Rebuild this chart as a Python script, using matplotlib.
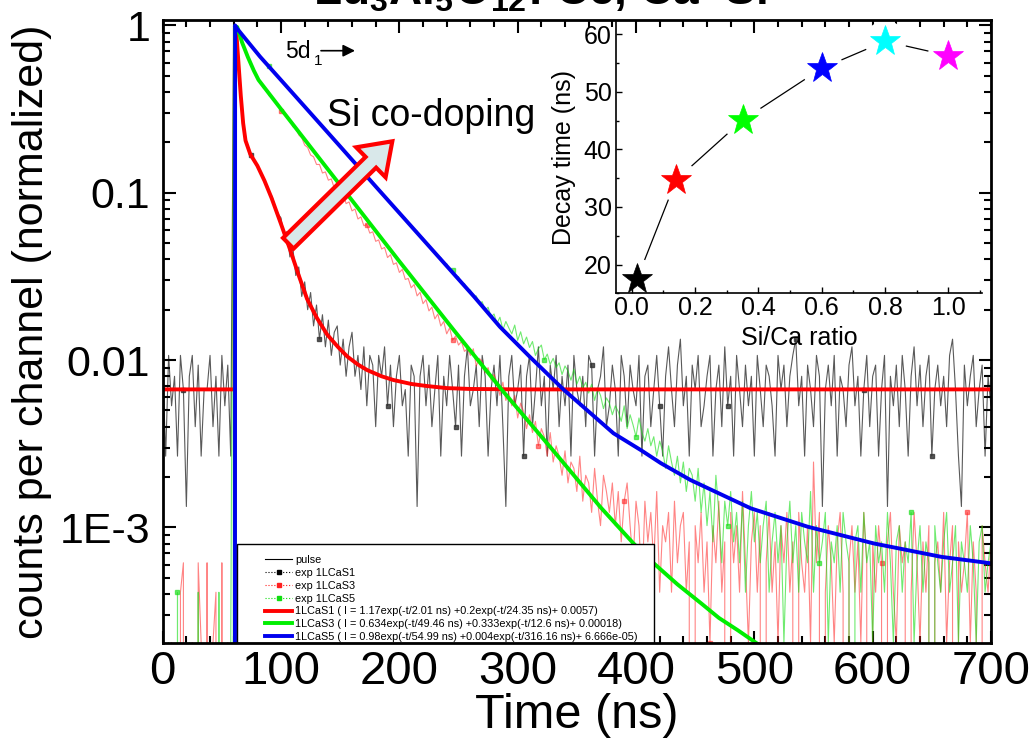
import numpy as np
import matplotlib
matplotlib.use('Agg')
import matplotlib.pyplot as plt
from matplotlib.lines import Line2D
from matplotlib.patches import FancyArrow, Rectangle
from matplotlib.ticker import FixedLocator, MultipleLocator, NullFormatter, LogLocator
from matplotlib.transforms import IdentityTransform

# ---------------- data ----------------
CHANNEL_NS = 2.5          # time per channel (ns)
PEAK_S1 = 750.0           # peak counts used for normalisation
PEAK_S3 = 4880.0
PEAK_S5 = 4880.0

# exp 1LCaS1 (counts per channel)
counts_s1 = [7, 2, 8, 4, 6, 2, 8, 5, 1, 6, 8, 3, 7, 2, 5, 5, 8, 3, 6, 2, 8, 4, 7, 2,
             750, 640, 340, 215, 158, 133, 126, 115, 108, 101,
             94, 83, 76, 71, 62, 56, 53, 41, 44, 31,
             35, 24, 27, 18, 22, 15, 19, 12, 16, 10,
             14, 9, 13, 8, 11, 12, 7, 10, 6, 9,
             11, 6, 8, 5, 9, 4, 8, 7, 3, 8,
             6, 9, 4,
             7, 3, 6, 8, 4, 5, 2, 7, 6, 1, 6, 8, 4, 7, 3, 5, 8, 2, 6, 4,
             8, 5, 3, 7, 2, 6, 9, 4, 5, 7, 3, 8, 6, 2, 5, 7, 4, 8, 3, 1,
             6, 8, 4, 5, 7, 2, 6, 8, 3, 5, 9, 4, 6, 2, 7, 5, 8, 3, 6, 4,
             7, 2, 8, 5, 4, 6, 3, 8, 7, 2, 5, 6, 9, 3, 4, 7, 5, 2, 8, 6,
             3, 7, 5, 4, 8, 2, 6, 7, 3, 5, 8, 4, 2, 6, 9, 5, 3, 7, 10, 4,
             6, 2, 7, 5, 8, 3, 4, 6, 8, 2, 5, 7, 3, 9, 4, 6, 2, 8, 5, 3,
             7, 4, 6, 2, 8, 5, 3, 7, 6, 4, 2, 8, 5, 7, 3, 6, 8, 10, 4, 6,
             2, 7, 5, 3, 8, 6, 1, 5, 7, 4, 8, 2, 6, 5, 3, 7, 9, 4, 6, 2,
             5, 8, 3, 6, 7, 2, 5, 8, 1, 6, 4, 7, 3, 8, 5, 2, 6, 9, 4, 7,
             3, 6, 8, 2, 5, 7, 4, 6, 3, 8, 10, 5, 2, 1, 7, 4, 6, 8, 3, 5,
             7, 2, 6, 4]

# exp 1LCaS3
counts_s3 = [3, 0, 0, 1, 0, 0, 2, 3, 0, 0, 1, 0, 3, 1, 0, 3, 0, 1, 2, 0, 3, 0, 1, 0,
             4880, 4700, 4250, 3850, 3380, 3150, 2760, 2620, 2330, 2270,
             2060, 2030, 1850, 1830, 1690, 1650, 1500, 1480, 1360, 1330,
             1210, 1190, 1080, 1040, 940, 910, 820, 800, 720, 720,
             640, 650, 580, 590, 520, 530, 470, 480, 420, 430,
             380, 390, 340, 350, 310, 315, 280, 285, 250, 255,
             225, 230, 200, 208, 182, 186, 163, 170, 148, 150,
             132, 138, 118, 124, 106, 112, 96, 101, 86, 92,
             78, 83, 70, 76, 64, 68, 60, 63, 55, 57,
             52, 57, 45, 50, 48, 41, 44, 37, 40, 36,
             30, 36, 28, 31, 26, 30, 22, 27, 24, 19,
             23, 18, 21, 15, 19, 17, 13, 18, 12, 15,
             13, 10, 14, 9, 12, 11, 8, 13, 7, 10,
             9, 6, 11, 7, 5, 10, 8, 6, 9, 5,
             8, 4, 7, 9, 5, 3, 7,
             5, 2, 7, 4, 6, 3, 8, 2, 5, 4, 6, 2, 7, 3, 5, 6, 2, 4, 0, 5,
             3, 6, 2, 4, 1, 5, 3, 7, 2, 4, 0, 6, 3, 5, 2, 8, 3, 1, 4, 6,
             2, 5, 0, 3, 6, 2, 4, 1, 5, 3, 6, 2, 4, 0, 6, 3, 2, 5, 1, 12,
             3, 6, 0, 2, 5, 3, 1, 4, 6, 2, 0, 3, 5, 2, 4, 1, 6, 3, 0, 4,
             2, 5, 3, 0, 4, 6, 2, 1, 5, 3, 4, 0, 2, 6, 3, 1, 4, 2, 5, 0,
             3, 4, 2, 6, 1, 3, 5, 0, 4, 2, 3, 6, 1, 4, 2, 0, 5, 3, 2, 4]

# exp 1LCaS5
counts_s5 = [2, 0, 1, 0, 0, 2, 0, 0, 0, 1, 0, 0, 2, 0, 0, 0, 1, 0, 0, 2, 0, 0, 0, 1,
             4880, 4650, 4490, 4230, 4080, 3830, 3700, 3460, 3350, 3140,
             3050, 2860, 2790, 2610, 2540, 2380, 2320, 2170, 2120, 1990,
             1930, 1810, 1770, 1650, 1610, 1510, 1470, 1380, 1340, 1260,
             1230, 1150, 1120, 1045, 1020, 955, 935, 870, 855, 795,
             780, 725, 710, 665, 650, 605, 595, 550, 540, 505,
             495, 460, 452, 420, 412, 384, 378, 350, 345, 318,
             314, 292, 288, 265, 262, 243, 240, 222, 218, 203,
             200, 185, 184, 168, 168, 152, 154, 139, 140, 128,
             128, 117, 118, 106, 109, 97, 101, 88, 92, 81,
             88, 74, 83, 76, 70, 79, 64, 72, 61, 67,
             58, 63, 52, 57, 60, 49, 53, 46, 50, 44,
             47, 40, 45, 42, 37, 43, 35, 39, 33, 36,
             31, 35, 28, 33, 30, 25, 29, 27, 23, 26,
             24, 21, 26, 19, 23, 20, 17, 22, 18, 16,
             19, 15, 17, 13, 16, 14, 11, 15, 12, 10,
             13, 9, 12, 8, 11, 10, 7, 11, 6, 9,
             5, 8, 4, 10, 6, 3, 7, 5, 8, 4,
             6, 3, 7, 2, 5, 8, 4, 6, 3, 5,
             7, 2, 4, 6, 3, 5, 1, 4, 7, 3,
             5, 2, 6, 4, 3, 8, 2, 5, 3, 4,
             6, 1, 4, 3, 5, 2, 6, 4, 3, 0,
             4, 5, 2, 6, 3, 4, 1, 5, 3, 4,
             2, 6, 3, 1, 4, 5, 2, 4, 3, 6,
             1, 3, 5, 2, 4, 3, 0, 5, 3, 2,
             4, 6, 2, 3, 5, 1, 4, 3, 2, 5,
             3, 1, 4, 5, 2, 3, 4]

pulse_t = [57.5, 60.0, 62.5]
pulse_y = [0.0, 1.0, 0.0]

# fitted curves
fit1_t = [0, 60.8, 61.0, 62, 64, 66, 68, 70, 74, 80, 86, 92, 100, 108, 115, 122, 130,
          139, 148, 156, 165, 173, 185, 195, 210, 223, 240, 260, 300, 700]
fit1_y = [0.00668, 0.00668, 0.97, 0.95, 0.60, 0.38, 0.26, 0.205, 0.17, 0.145, 0.118,
          0.093, 0.065, 0.045, 0.032, 0.0232, 0.0180, 0.0142, 0.0120, 0.0105, 0.0094,
          0.0087, 0.0080, 0.0076, 0.0072, 0.0070, 0.0068, 0.00672, 0.00668, 0.00668]
fit3_t = [60.8, 61.0, 63, 67, 72, 77, 81, 100, 150, 200, 246, 288, 330, 370, 398, 415,
          435, 455, 470, 486, 502, 520]
fit3_y = [1e-6, 0.99, 0.977, 0.794, 0.646, 0.537, 0.472, 0.316, 0.111, 0.0389, 0.0151,
          0.00646, 0.00288, 0.00132, 8.0e-4, 6.1e-4, 4.57e-4, 3.52e-4, 2.88e-4, 2.43e-4,
          2.03e-4, 1.70e-4]
fit5_t = [61.0, 61.2, 62.6, 82.3, 100, 120, 150, 180, 200, 230, 263, 285, 310, 339, 381,
          404, 421, 446, 497, 545, 601, 658, 700]
fit5_y = [1e-6, 1.0, 0.962, 0.650, 0.471, 0.327, 0.189, 0.109, 0.0757, 0.0438, 0.0240,
          0.0158, 0.0105, 0.00664, 0.00365, 0.00290, 0.00242, 0.00192, 0.00130, 0.00101,
          0.000802, 0.000667, 0.000610]

legend_labels = ['pulse', 'exp 1LCaS1', 'exp 1LCaS3', 'exp 1LCaS5',
                 '1LCaS1 ( I = 1.17exp(-t/2.01 ns) +0.2exp(-t/24.35 ns)+ 0.0057)',
                 '1LCaS3 ( I = 0.634exp(-t/49.46 ns) +0.333exp(-t/12.6 ns)+ 0.00018)',
                 '1LCaS5 ( I = 0.98exp(-t/54.99 ns) +0.004exp(-t/316.16 ns)+ 6.666e-05)']

# inset
si_ca_ratio = [0.016, 0.14, 0.35, 0.60, 0.80, 1.00]
decay_time = [17.4, 34.7, 45.1, 54.1, 58.8, 56.3]
star_colors = ['#000000', '#ff0000', '#00ff00', '#0000ff', '#00ffff', '#ff00ff']

y_ticks = [1e-3, 1e-2, 1e-1, 1]
y_ticklabels = ['1E-3', '0.01', '0.1', '1']

# ---------------- figure ----------------
plt.rcParams['font.family'] = ['Liberation Sans', 'DejaVu Sans']
plt.rcParams['mathtext.fontset'] = 'custom'
plt.rcParams['mathtext.rm'] = 'Liberation Sans:bold'
plt.rcParams['mathtext.default'] = 'rm'

W, H = 1032, 739
fig = plt.figure(figsize=(W / 100, H / 100), dpi=100)


def fx(px):
    return px / W


def fy(py):
    return 1 - py / H


L, R, T, B = 162.7, 991.0, 20.0, 643.3
ax = fig.add_axes([fx(L), fy(B), fx(R) - fx(L), fy(T) - fy(B)])
ax.set_yscale('log', nonpositive='clip')


def norm(counts, peak):
    return np.asarray(counts, dtype=float) / peak


t1 = np.arange(len(counts_s1)) * CHANNEL_NS
t3 = np.arange(len(counts_s3)) * CHANNEL_NS
t5 = np.arange(len(counts_s5)) * CHANNEL_NS

ax.plot(t1, norm(counts_s1, PEAK_S1), color='#303030', lw=0.8, alpha=0.8,
        marker='s', ms=2.2, markevery=(7, 23), zorder=1.5)
ax.plot(t3, norm(counts_s3, PEAK_S3), color='#ff2020', lw=0.8, alpha=0.55,
        marker='s', ms=2.2, markevery=(11, 29), zorder=1.6)
ax.plot(t5, norm(counts_s5, PEAK_S5), color='#10dd10', lw=0.8, alpha=0.6,
        marker='s', ms=2.2, markevery=(5, 31), zorder=1.7)
ax.plot(pulse_t, pulse_y, color='black', lw=0.8, zorder=1.8)

ax.plot(fit1_t, fit1_y, color='#ff0000', lw=2.8, zorder=2.0, solid_capstyle='butt')
ax.plot(fit3_t, fit3_y, color='#00ee00', lw=2.8, zorder=2.1, solid_capstyle='butt')
ax.plot(fit5_t, fit5_y, color='#0000ee', lw=2.8, zorder=2.2, solid_capstyle='butt')

ax.set_xlim(0, 700)
ax.set_ylim(2.03e-4, 1.077)
ax.yaxis.set_major_locator(FixedLocator(y_ticks))
ax.set_yticklabels(y_ticklabels)
ax.yaxis.set_minor_locator(LogLocator(base=10, subs=np.arange(2, 10), numticks=20))
ax.yaxis.set_minor_formatter(NullFormatter())
ax.xaxis.set_major_locator(MultipleLocator(100))
ax.xaxis.set_minor_locator(MultipleLocator(20))
ax.tick_params(which='both', direction='in', top=True, right=True, width=1.5, color='black')
ax.tick_params(which='major', length=9)
ax.tick_params(which='minor', length=5)
ax.tick_params(axis='y', which='major', labelsize=31, pad=9)
ax.tick_params(axis='x', which='major', labelsize=34, pad=5)
for s in ax.spines.values():
    s.set_linewidth(2.0)
    s.set_zorder(6)

ax.set_xlabel('Time (ns)', fontsize=35)
ax.xaxis.set_label_coords(0.5, -0.079)
ax.set_ylabel('counts per channel (normalized)', fontsize=31)
ax.yaxis.set_label_coords(-0.1336, 0.5)

# legend box + legend
rect = Rectangle((0.0893, 0.0), 0.5038, 0.1593, transform=ax.transAxes,
                 facecolor='white', edgecolor='black', lw=1.0, zorder=4)
ax.add_patch(rect)
handles = [Line2D([], [], color='black', lw=0.8),
           Line2D([], [], color='black', lw=0.8, ls=':', marker='s', ms=3),
           Line2D([], [], color='#ff2020', lw=0.8, ls=':', marker='s', ms=3),
           Line2D([], [], color='#10dd10', lw=0.8, ls=':', marker='s', ms=3),
           Line2D([], [], color='#ff0000', lw=2.8),
           Line2D([], [], color='#00ee00', lw=2.8),
           Line2D([], [], color='#0000ee', lw=2.8)]
leg = ax.legend(handles, legend_labels, loc='upper left', bbox_to_anchor=(0.1235, 0.1415),
                bbox_transform=ax.transAxes, frameon=False, prop={'size': 7.8},
                handlelength=2.5, handletextpad=0.3, labelspacing=0.26, borderpad=0,
                borderaxespad=0, numpoints=1)
leg.set_zorder(5)

# title (cut by the top edge)
fig.text(fx(540), fy(5), r'Lu$_3$Al$_5$O$_{12}$: Ce, Ca+Si', fontsize=33,
         fontweight='bold', ha='center', va='baseline')

# 5d1 annotation
fig.text(fx(285), fy(58), '5d', fontsize=16.5, ha='left', va='baseline')
fig.text(fx(314), fy(65), '1', fontsize=11, ha='left', va='baseline')
ax.annotate('', xy=(355, H - 50.7), xytext=(321, H - 50.7), xycoords='figure pixels',
            textcoords='figure pixels',
            arrowprops=dict(arrowstyle='-|>', color='black', lw=1.2, mutation_scale=18,
                            shrinkA=0, shrinkB=0))

# Si co-doping arrow and text
fig.text(fx(327), fy(126.5), 'Si co-doping', fontsize=27, ha='left', va='baseline')
arr = FancyArrow(288.3, H - 243.3, 104, 102, width=15, head_width=42, head_length=30,
                 length_includes_head=True, transform=IdentityTransform(),
                 facecolor='#d9e8ea', edgecolor='#ff0000', lw=3.0, zorder=7)
fig.add_artist(arr)

# ---------------- inset ----------------
IL, IR, IT, IB = 616.0, 981.7, 21.7, 293.3
axi = fig.add_axes([fx(IL), fy(IB), fx(IR) - fx(IL), fy(IT) - fy(IB)])
axi.set_facecolor('none')
axi.set_axisbelow(False)
axi.plot(si_ca_ratio, decay_time, color='black', lw=0.9, zorder=2)
axi.plot(si_ca_ratio, decay_time, 'o', ms=30, color='white', mec='none', zorder=2.1)
for xr, yd, c in zip(si_ca_ratio, decay_time, star_colors):
    axi.plot([xr], [yd], marker='*', ms=23, color=c, mec=c, mew=0.5, zorder=2.2, clip_on=False)
axi.set_xlim(-0.05, 1.105)
axi.set_ylim(15, 62.2)
axi.xaxis.set_major_locator(FixedLocator([0, 0.2, 0.4, 0.6, 0.8, 1.0]))
axi.set_xticklabels(['0.0', '0.2', '0.4', '0.6', '0.8', '1.0'])
axi.xaxis.set_minor_locator(MultipleLocator(0.1))
axi.yaxis.set_major_locator(MultipleLocator(10))
axi.yaxis.set_minor_locator(MultipleLocator(5))
axi.spines['top'].set_visible(False)
axi.spines['right'].set_visible(False)
for s in ('left', 'bottom'):
    axi.spines[s].set_linewidth(1.2)
axi.tick_params(which='both', direction='in', width=1.0)
axi.tick_params(which='major', length=4.5)
axi.tick_params(which='minor', length=2.5)
axi.tick_params(axis='x', labelsize=18, pad=2)
axi.tick_params(axis='y', labelsize=18, pad=3)
axi.set_xlabel('Si/Ca ratio', fontsize=18, labelpad=4)
axi.set_ylabel('Decay time (ns)', fontsize=18, labelpad=6)

fig.savefig('out.png', dpi=100)
